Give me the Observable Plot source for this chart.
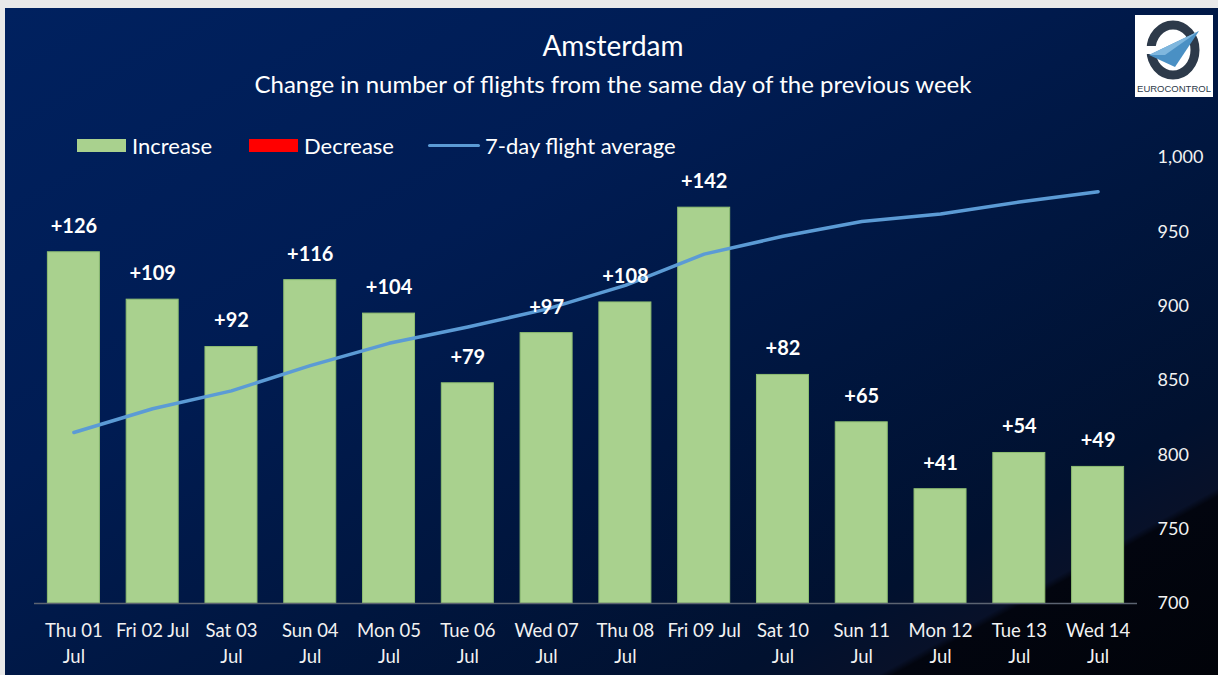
<!DOCTYPE html>
<html>
<head>
<meta charset="utf-8">
<script src="https://cdn.jsdelivr.net/npm/d3@7"></script>
<script src="https://cdn.jsdelivr.net/npm/@observablehq/plot@0.6"></script>
<style>
  html, body { margin: 0; padding: 0; background: #ffffff; }
  #wrap { position: relative; width: 1218px; height: 675px; overflow: hidden; background: #e9e9e9; font-family: Lato, "Open Sans", sans-serif; }
  #panel { position: absolute; left: 5px; top: 8px; right: 0; bottom: 0;
    background: linear-gradient(to bottom right, #00215f 0%, #001c53 35%, #00163f 60%, #01112f 80%, #081129 86%, #02050f 86.6%, #010309 100%); }
  #chart { position: absolute; left: 0; top: 0; }
  .title { position: absolute; left: 0; width: 1226px; text-align: center; color: #ffffff; white-space: nowrap; }
  #t1 { top: 28px; font-size: 28px; }
  #t2 { top: 69px; font-size: 24px; }
  #legend { position: absolute; top: 131px; left: 77px; height: 28px; display: flex; align-items: center; color: #ffffff; font-size: 22px; white-space: nowrap; }
  .sw { display: inline-block; width: 49px; height: 13px; margin-right: 6px; }
  .ln { display: inline-block; width: 52px; height: 3px; background: #5b9bd5; border-radius: 2px; margin-right: 5px; }
  .item { display: flex; align-items: center; }
  #logo { position: absolute; left: 1135px; top: 15px; }
</style>
</head>
<body>
<div id="wrap">
  <div id="panel"></div>
  <div id="chart"></div>
  <div class="title" id="t1">Amsterdam</div>
  <div class="title" id="t2">Change in number of flights from the same day of the previous week</div>
  <div id="legend">
    <span class="item" style="margin-right:37px"><span class="sw" style="background:#a9d18e"></span>Increase</span>
    <span class="item" style="margin-right:34px"><span class="sw" style="background:#ff0000"></span>Decrease</span>
    <span class="item"><span class="ln"></span>7-day flight average</span>
  </div>
  <svg id="logo" width="78" height="82" viewBox="0 0 78 82">
    <rect x="0" y="0" width="78" height="82" fill="#ffffff"/>
    <ellipse cx="38" cy="35" rx="22" ry="25" fill="none" stroke="#2d3a4a" stroke-width="9"/>
    <rect x="8" y="31" width="20" height="8" fill="#ffffff"/>
    <polygon points="14,40 64,16 40,52" fill="#4a90c4"/>
    <polygon points="14,40 64,16 30,40" fill="#7fb7de"/>
    <text x="39" y="77" text-anchor="middle" font-family="Liberation Sans Narrow, Liberation Sans, sans-serif" font-size="9.5" fill="#2d3a4a">EUROCONTROL</text>
  </svg>
</div>
<script>
// ---- data ----
const days = ["Thu 01 Jul", "Fri 02 Jul", "Sat 03 Jul", "Sun 04 Jul", "Mon 05 Jul", "Tue 06 Jul", "Wed 07 Jul",
              "Thu 08 Jul", "Fri 09 Jul", "Sat 10 Jul", "Sun 11 Jul", "Mon 12 Jul", "Tue 13 Jul", "Wed 14 Jul"];
const tickLabels = ["Thu 01\nJul", "Fri 02 Jul", "Sat 03\nJul", "Sun 04\nJul", "Mon 05\nJul", "Tue 06\nJul", "Wed 07\nJul",
                    "Thu 08\nJul", "Fri 09 Jul", "Sat 10\nJul", "Sun 11\nJul", "Mon 12\nJul", "Tue 13\nJul", "Wed 14\nJul"];
const change = [126, 109, 92, 116, 104, 79, 97, 108, 142, 82, 65, 41, 54, 49];
const avg7 = [815, 831, 843, 860, 875, 886, 898, 914, 935, 947, 957, 962, 970, 977];
const leftDomain = [0, 160];
const rightDomain = [700, 1000];
const rightTicks = [700, 750, 800, 850, 900, 950, 1000];

// ---- build ----
const data = days.map((d, i) => ({day: d, change: change[i], avg: avg7[i]}));
const labelOf = new Map(days.map((d, i) => [d, tickLabels[i]]));
const toLeft = v => (v - rightDomain[0]) / (rightDomain[1] - rightDomain[0]) * (leftDomain[1] - leftDomain[0]) + leftDomain[0];
const fromLeft = v => (v - leftDomain[0]) / (leftDomain[1] - leftDomain[0]) * (rightDomain[1] - rightDomain[0]) + rightDomain[0];
const fmt = d3.format(",");

const chart = Plot.plot({
  width: 1218,
  height: 675,
  marginTop: 157,
  marginBottom: 72,
  marginLeft: 34,
  marginRight: 81,
  style: {background: "transparent", color: "#f2f2f2", fontFamily: "Lato, 'Open Sans', sans-serif", fontSize: "18px", overflow: "visible"},
  x: {domain: days, paddingInner: 0.34, paddingOuter: 0.17, round: false, label: null},
  y: {domain: leftDomain, label: null},
  marks: [
    Plot.barY(data, {x: "day", y: "change", fill: "#a9d18e", stroke: "#8fbf72", strokeWidth: 1}),
    Plot.ruleY([0], {stroke: "#5c6472", strokeWidth: 1.5}),
    Plot.line(data, {x: "day", y: d => toLeft(d.avg), stroke: "#5b9bd5", strokeWidth: 3.5, strokeLinecap: "round", strokeLinejoin: "round"}),
    Plot.text(data, {x: "day", y: "change", text: d => "+" + d.change, dy: -26, fill: "#ffffff", fontWeight: "bold", fontSize: 20}),
    Plot.axisX({tickSize: 0, tickPadding: 15, fontSize: 18.5, lineHeight: 1.4, label: null, fill: "#f2f2f2", tickFormat: d => labelOf.get(d)}),
    Plot.axisY({anchor: "right", ticks: rightTicks.map(toLeft), tickFormat: d => fmt(Math.round(fromLeft(d))),
                tickSize: 0, tickPadding: 20, textAnchor: "start", fontSize: 18, fill: "#f2f2f2", label: null})
  ]
});
document.getElementById("chart").appendChild(chart);
</script>
</body>
</html>
